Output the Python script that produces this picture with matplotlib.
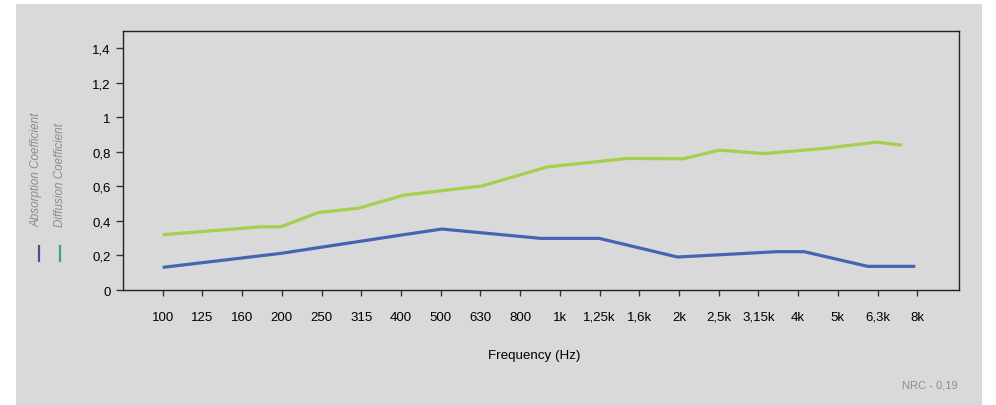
import matplotlib.pyplot as plt
from matplotlib.patches import Rectangle
from matplotlib.lines import Line2D

# frequency bands shown on the x axis
freq_labels = ['100', '125', '160', '200', '250', '315', '400', '500', '630', '800',
               '1k', '1,25k', '1,6k', '2k', '2,5k', '3,15k', '4k', '5k', '6,3k', '8k']
y_ticks = [0, 0.2, 0.4, 0.6, 0.8, 1.0, 1.2, 1.4]
y_labels = ['0', '0,2', '0,4', '0,6', '0,8', '1', '1,2', '1,4']

# line vertices (x in band-index units)
diff_x = [0, 2.47, 2.97, 3.93, 4.93, 6.07, 8.05, 9.69, 11.71, 13.11, 14.01, 15.15, 16.65, 17.98, 18.61]
diff_y = [0.32, 0.366, 0.366, 0.449, 0.474, 0.549, 0.603, 0.713, 0.762, 0.76, 0.81, 0.79, 0.82, 0.856, 0.839]

abs_x = [0, 2.97, 6.0, 7.03, 9.52, 10.99, 12.96, 15.48, 16.15, 17.75, 18.95]
abs_y = [0.131, 0.212, 0.318, 0.353, 0.299, 0.299, 0.191, 0.222, 0.222, 0.137, 0.137]

nrc_text = 'NRC - 0,19'

plt.rcParams['font.family'] = ['Liberation Sans', 'DejaVu Sans']

bg = '#d9d9d9'
fig = plt.figure(figsize=(9.96, 4.06), dpi=100, facecolor='white')
fig.patches.append(Rectangle((16 / 996, 0), 966 / 996, 401 / 406, transform=fig.transFigure,
                             facecolor=bg, edgecolor='none', zorder=-10))

ax = fig.add_axes([123 / 996, 115 / 406, 836 / 996, 259 / 406])
ax.set_facecolor(bg)
ax.plot(diff_x, diff_y, color='#a5cf4c', lw=2.3, solid_capstyle='butt')
ax.plot(abs_x, abs_y, color='#4465b2', lw=2.3, solid_capstyle='butt')

ax.set_xlim(-1, 20.05)
ax.set_ylim(0, 1.5)
ax.set_xticks(range(len(freq_labels)))
ax.set_xticklabels(freq_labels)
ax.set_yticks(y_ticks)
ax.set_yticklabels(y_labels)
ax.tick_params(axis='x', length=4.5, width=1, pad=10.5, labelsize=9.5, color='#333333')
ax.tick_params(axis='y', length=5, width=1, pad=4, labelsize=9.5, color='#333333')
for s in ax.spines.values():
    s.set_color('#222222')
    s.set_linewidth(1)

ax.set_xlabel('Frequency (Hz)', fontsize=9.6)
ax.xaxis.set_label_coords(411 / 836, -0.226)

# custom legend at the left
fig.text(37 / 996, 179 / 406, 'Absorption Coefficient', rotation=90, style='italic',
         fontsize=8.4, color='#8c8c8c', ha='center', va='bottom')
fig.text(60 / 996, 179 / 406, 'Diffusion Coefficient', rotation=90, style='italic',
         fontsize=8.4, color='#8c8c8c', ha='center', va='bottom')
fig.add_artist(Line2D([39 / 996, 39 / 996], [144 / 406, 159 / 406], transform=fig.transFigure,
                      color='#4a4f8c', lw=1.6))
fig.add_artist(Line2D([60 / 996, 60 / 996], [144 / 406, 159 / 406], transform=fig.transFigure,
                      color='#3aa86c', lw=1.6))

fig.text(958 / 996, 20 / 406, nrc_text, fontsize=8, color='#8c8c8c', ha='right', va='center')

fig.savefig('out.png', dpi=100, facecolor='white')
